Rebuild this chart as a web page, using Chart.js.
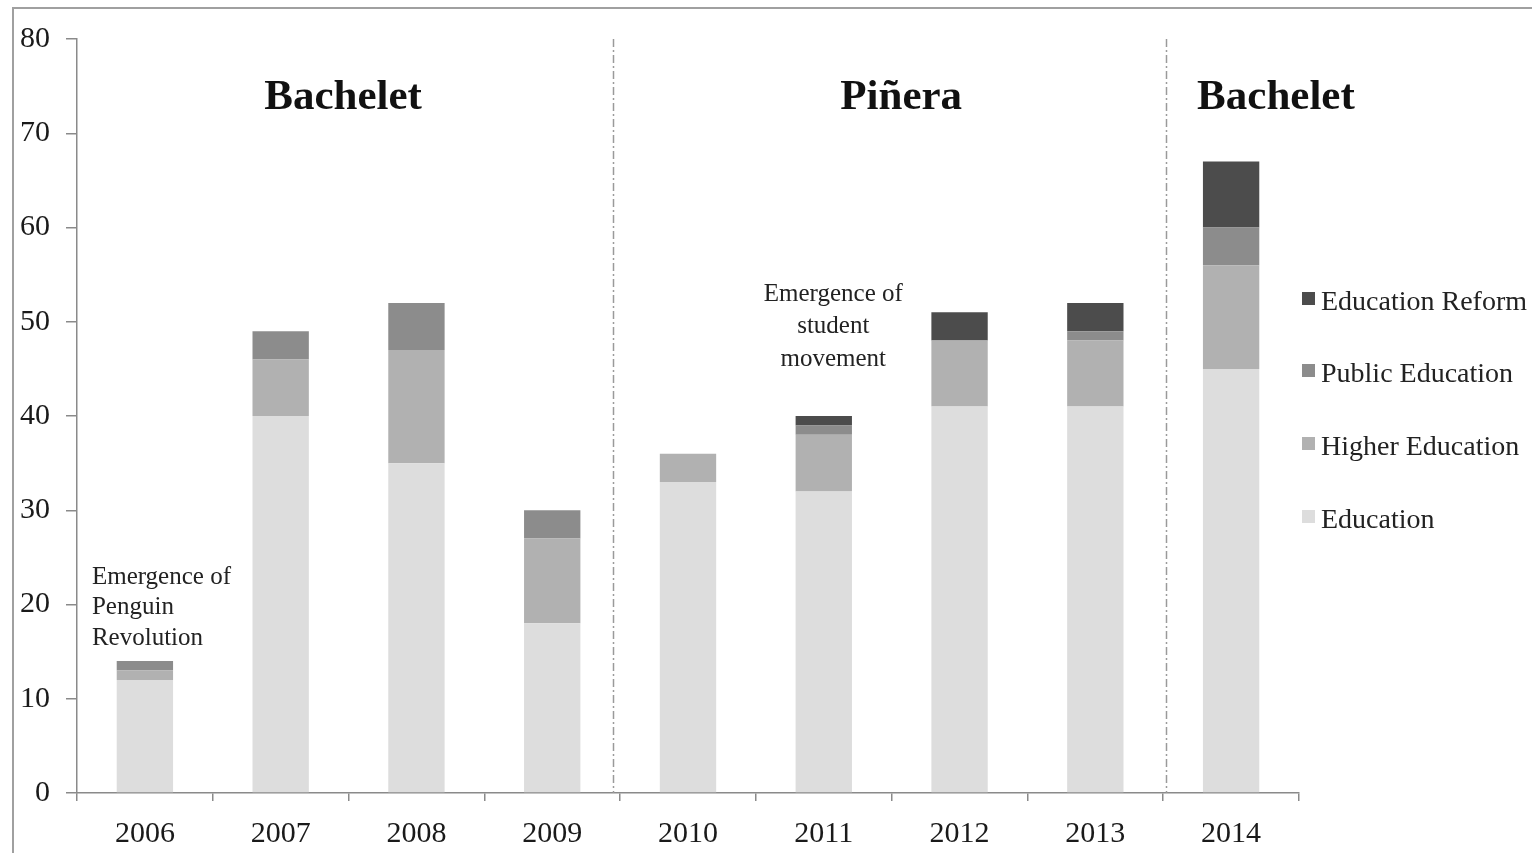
<!DOCTYPE html>
<html>
<head>
<meta charset="utf-8">
<script src="https://cdn.jsdelivr.net/npm/chart.js@4/dist/chart.umd.min.js"></script>
<style>
  html, body { margin: 0; padding: 0; background: #fff; }
  #wrap { position: relative; width: 1532px; height: 853px; overflow: hidden; }
  #frame { position: absolute; left: 12px; top: 7px; width: 1600px; height: 900px;
           border-top: 2px solid #a0a0a0; border-left: 2px solid #a0a0a0; }
  #chart { position: absolute; left: 0; top: 0; }
  #legend { position: absolute; left: 1302px; top: 0; font-family: "Liberation Serif", serif;
            font-size: 28px; color: #222; }
  #legend .item { position: absolute; white-space: nowrap; display: flex; align-items: center; }
  #legend .box { width: 13px; height: 13px; margin-right: 6px; margin-top: -6px; }
</style>
</head>
<body>
<div id="wrap">
  <div id="frame"></div>
  <canvas id="chart" width="1532" height="853"></canvas>
  <div id="legend"></div>
</div>
<script>
// Data
const years = ['2006', '2007', '2008', '2009', '2010', '2011', '2012', '2013', '2014'];
const education       = [12, 40, 35, 18, 33, 32, 41, 41, 45];
const higherEducation = [1, 6, 12, 9, 3, 6, 7, 7, 11];
const publicEducation = [1, 3, 5, 3, 0, 1, 0, 1, 4];
const educationReform = [0, 0, 0, 0, 0, 1, 3, 3, 7];
const yTicks = [0, 10, 20, 30, 40, 50, 60, 70, 80];

// Periods (presidents)
const presidents = ['Bachelet', 'Piñera', 'Bachelet'];

const serif = '"Liberation Serif", "Times New Roman", serif';

// placement of separators and text, in category / value units
const separatorPos = [3.45, 7.52];
const titlePos = [{ x: 1.46, y: 73.8 }, { x: 5.57, y: 73.8 }, { x: 8.33, y: 73.8 }];
const notes = [
  { lines: ['Emergence of', 'Penguin', 'Revolution'], x: -0.39, y: 22.9, align: 'left', step: 30.5 },
  { lines: ['Emergence of', 'student', 'movement'], x: 5.07, y: 52.9, align: 'center', step: 32.5 }
];

const annotations = {
  id: 'annotations',
  afterDatasetsDraw(chart) {
    const { ctx, chartArea, scales: { x, y } } = chart;
    ctx.save();
    // separators
    ctx.strokeStyle = '#9a9a9a';
    ctx.lineWidth = 1.5;
    ctx.setLineDash([8, 3, 2, 3]);
    separatorPos.forEach(v => {
      const px = Math.round(x.getPixelForValue(v)) + 0.5;
      ctx.beginPath();
      ctx.moveTo(px, chartArea.top);
      ctx.lineTo(px, chartArea.bottom);
      ctx.stroke();
    });
    ctx.setLineDash([]);

    // president names
    ctx.fillStyle = '#111';
    ctx.font = 'bold 43px ' + serif;
    ctx.textAlign = 'center';
    ctx.textBaseline = 'middle';
    presidents.forEach((name, i) => {
      ctx.fillText(name, x.getPixelForValue(titlePos[i].x), y.getPixelForValue(titlePos[i].y));
    });

    // notes
    ctx.font = '25px ' + serif;
    ctx.fillStyle = '#222';
    notes.forEach(n => {
      ctx.textAlign = n.align;
      const px = x.getPixelForValue(n.x);
      const py = y.getPixelForValue(n.y);
      n.lines.forEach((line, k) => ctx.fillText(line, px, py + k * n.step));
    });
    ctx.restore();
  }
};

const chart = new Chart(document.getElementById('chart'), {
  type: 'bar',
  data: {
    labels: years,
    datasets: [
      { label: 'Education', data: education, backgroundColor: '#dddddd' },
      { label: 'Higher Education', data: higherEducation, backgroundColor: '#b1b1b1' },
      { label: 'Public Education', data: publicEducation, backgroundColor: '#8c8c8c' },
      { label: 'Education Reform', data: educationReform, backgroundColor: '#4c4c4c' }
    ]
  },
  options: {
    responsive: false,
    animation: false,
    devicePixelRatio: 1,
    layout: { padding: { top: 39, right: 233, bottom: 0, left: 0 } },
    datasets: { bar: { categoryPercentage: 1, barPercentage: 0.415 } },
    plugins: { legend: { display: false }, tooltip: { enabled: false } },
    scales: {
      x: {
        stacked: true,
        afterFit: s => { s.height = 60; },
        border: { display: true, color: '#8a8a8a', width: 1.5 },
        grid: { offset: true, drawOnChartArea: false, drawTicks: true, tickLength: 8, color: '#8a8a8a', lineWidth: 1.5 },
        ticks: { color: '#1a1a1a', font: { family: serif, size: 30 }, padding: 15, maxRotation: 0 }
      },
      y: {
        stacked: true,
        min: 0,
        max: 80,
        afterFit: s => { s.width = 77; },
        afterBuildTicks: s => { s.ticks = yTicks.map(v => ({ value: v })); },
        border: { display: true, color: '#8a8a8a', width: 1.5 },
        grid: { drawOnChartArea: false, drawTicks: true, tickLength: 11, color: '#8a8a8a', lineWidth: 1.5 },
        ticks: { color: '#1a1a1a', font: { family: serif, size: 30 }, padding: 16 }
      }
    }
  },
  plugins: [annotations]
});

// legend, top item = last dataset
const legendRows = [301, 373, 446, 519];
const legendEl = document.getElementById('legend');
chart.data.datasets.slice().reverse().forEach((ds, i) => {
  const item = document.createElement('div');
  item.className = 'item';
  item.style.top = (legendRows[i] - 18) + 'px';
  item.style.height = '36px';
  const box = document.createElement('span');
  box.className = 'box';
  box.style.background = ds.backgroundColor;
  const txt = document.createElement('span');
  txt.textContent = ds.label;
  item.appendChild(box);
  item.appendChild(txt);
  legendEl.appendChild(item);
});
</script>
</body>
</html>
